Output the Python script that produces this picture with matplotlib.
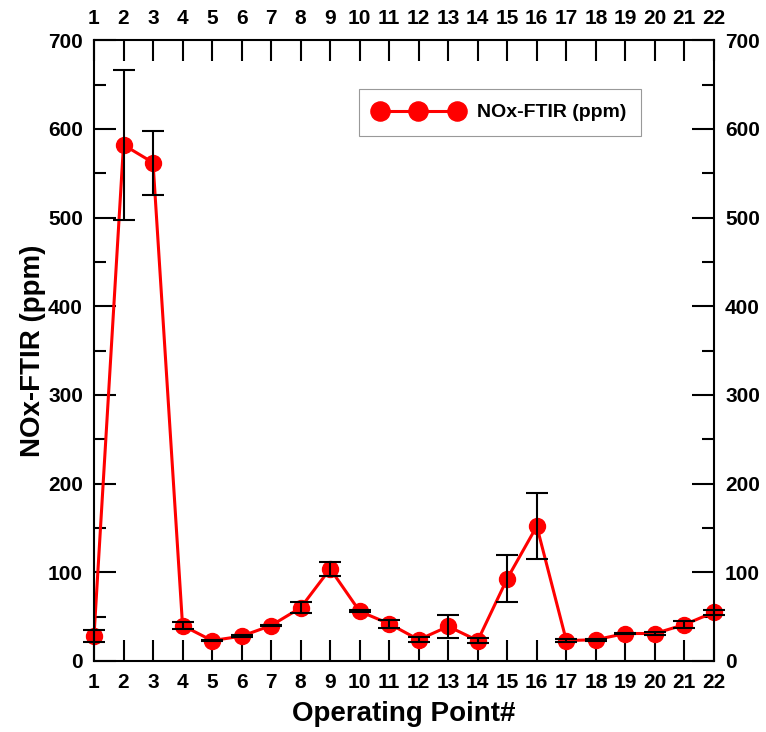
import numpy as np
import matplotlib.pyplot as plt
from matplotlib.ticker import MultipleLocator

plt.rcParams['font.family'] = ['Liberation Sans', 'DejaVu Sans']
plt.rcParams['font.weight'] = 'bold'

# Datos
punto = np.arange(1, 23)
nox = [28, 582, 562, 40, 23, 28, 40, 60, 104, 56, 42, 24, 39, 23, 93, 152, 23, 24, 31, 31, 41, 55]
err = [7, 85, 36, 4, 1, 1, 1, 6, 8, 1, 4.5, 3, 13, 3, 27, 37, 2, 1, 1, 2, 4, 3]

fig = plt.figure(figsize=(7.66, 7.32), dpi=100)
ax = fig.add_axes([0.1227, 0.097, 0.8093, 0.848])

ax.plot(punto, nox, '-o', color='red', lw=2.2, ms=11.5, label='NOx-FTIR (ppm)',
        zorder=2, clip_on=False)
ax.errorbar(punto, nox, yerr=err, fmt='none', ecolor='black', elinewidth=1.5,
            capsize=8, capthick=1.5, zorder=3, clip_on=False)

ax.set_xlim(1, 22)
ax.set_ylim(0, 700)
ax.set_xticks(punto)
ax.yaxis.set_major_locator(MultipleLocator(100))
ax.yaxis.set_minor_locator(MultipleLocator(50))

ax.tick_params(axis='both', which='major', direction='in', width=1.5,
               labelsize=15, top=True, right=True, labeltop=True, labelright=True)
ax.tick_params(axis='x', which='major', length=15, pad=9)
ax.tick_params(axis='y', which='major', length=16, pad=8)
ax.tick_params(axis='y', which='minor', direction='in', length=8.5, width=1.5,
               right=True)
for s in ax.spines.values():
    s.set_linewidth(1.5)

ax.set_xlabel('Operating Point#', fontsize=20, fontweight='bold', labelpad=6)
ax.set_ylabel('NOx-FTIR (ppm)', fontsize=20, fontweight='bold', labelpad=1)

leg = ax.legend(loc='upper right', bbox_to_anchor=(0.882, 0.921), borderaxespad=0,
                numpoints=3, markerscale=1.2, fancybox=False, framealpha=1,
                edgecolor='#999999', prop={'size': 14, 'weight': 'bold'},
                handlelength=4.6, handletextpad=0.7, borderpad=0.75)
leg.get_frame().set_linewidth(0.8)

plt.savefig('out.png', dpi=100)
